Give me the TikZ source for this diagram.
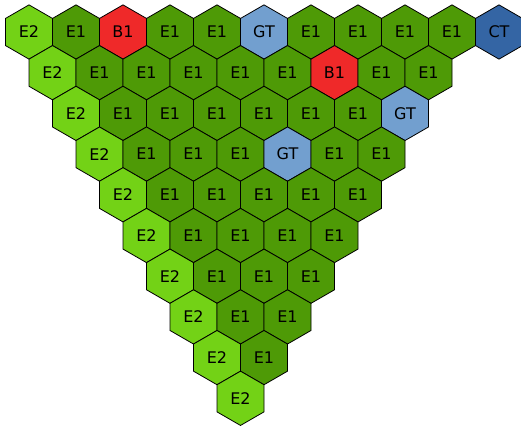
\documentclass[tikz,border=0pt]{standalone}
\usepackage{fontspec}
\setmainfont{DejaVu Sans}
\usetikzlibrary{shapes.geometric}
\definecolor{colorE1}{HTML}{4E9A06}
\definecolor{colorE2}{HTML}{73D216}
\definecolor{colorB1}{HTML}{EF2929}
\definecolor{colorGT}{HTML}{729FCF}
\definecolor{colorCT}{HTML}{3465A4}
\begin{document}
\begin{tikzpicture}[x={(1pt,0pt)},y={(0pt,-1pt)},every node/.style={regular polygon, regular polygon sides=6, shape border rotate=30, minimum size=54.27pt, inner sep=0pt, outer sep=0pt, draw=black, line width=0.8pt, font=\fontsize{16}{19}\selectfont}]

\useasboundingbox (0,0) rectangle (521,426);

\foreach \row/\labels in {0/{E2,E1,B1,E1,E1,GT,E1,E1,E1,E1,CT},
                          1/{E2,E1,E1,E1,E1,E1,B1,E1,E1},
                          2/{E2,E1,E1,E1,E1,E1,E1,GT},
                          3/{E2,E1,E1,E1,GT,E1,E1},
                          4/{E2,E1,E1,E1,E1,E1},
                          5/{E2,E1,E1,E1,E1},
                          6/{E2,E1,E1,E1},
                          7/{E2,E1,E1},
                          8/{E2,E1},
                          9/{E2}}
  \foreach \lab [count=\c from 0] in \labels
    \node[fill=color\lab] (h\row-\c) at ({29+23.5*\row+47*\c},{32+40.7*\row}) {\lab};

\end{tikzpicture}
\end{document}
